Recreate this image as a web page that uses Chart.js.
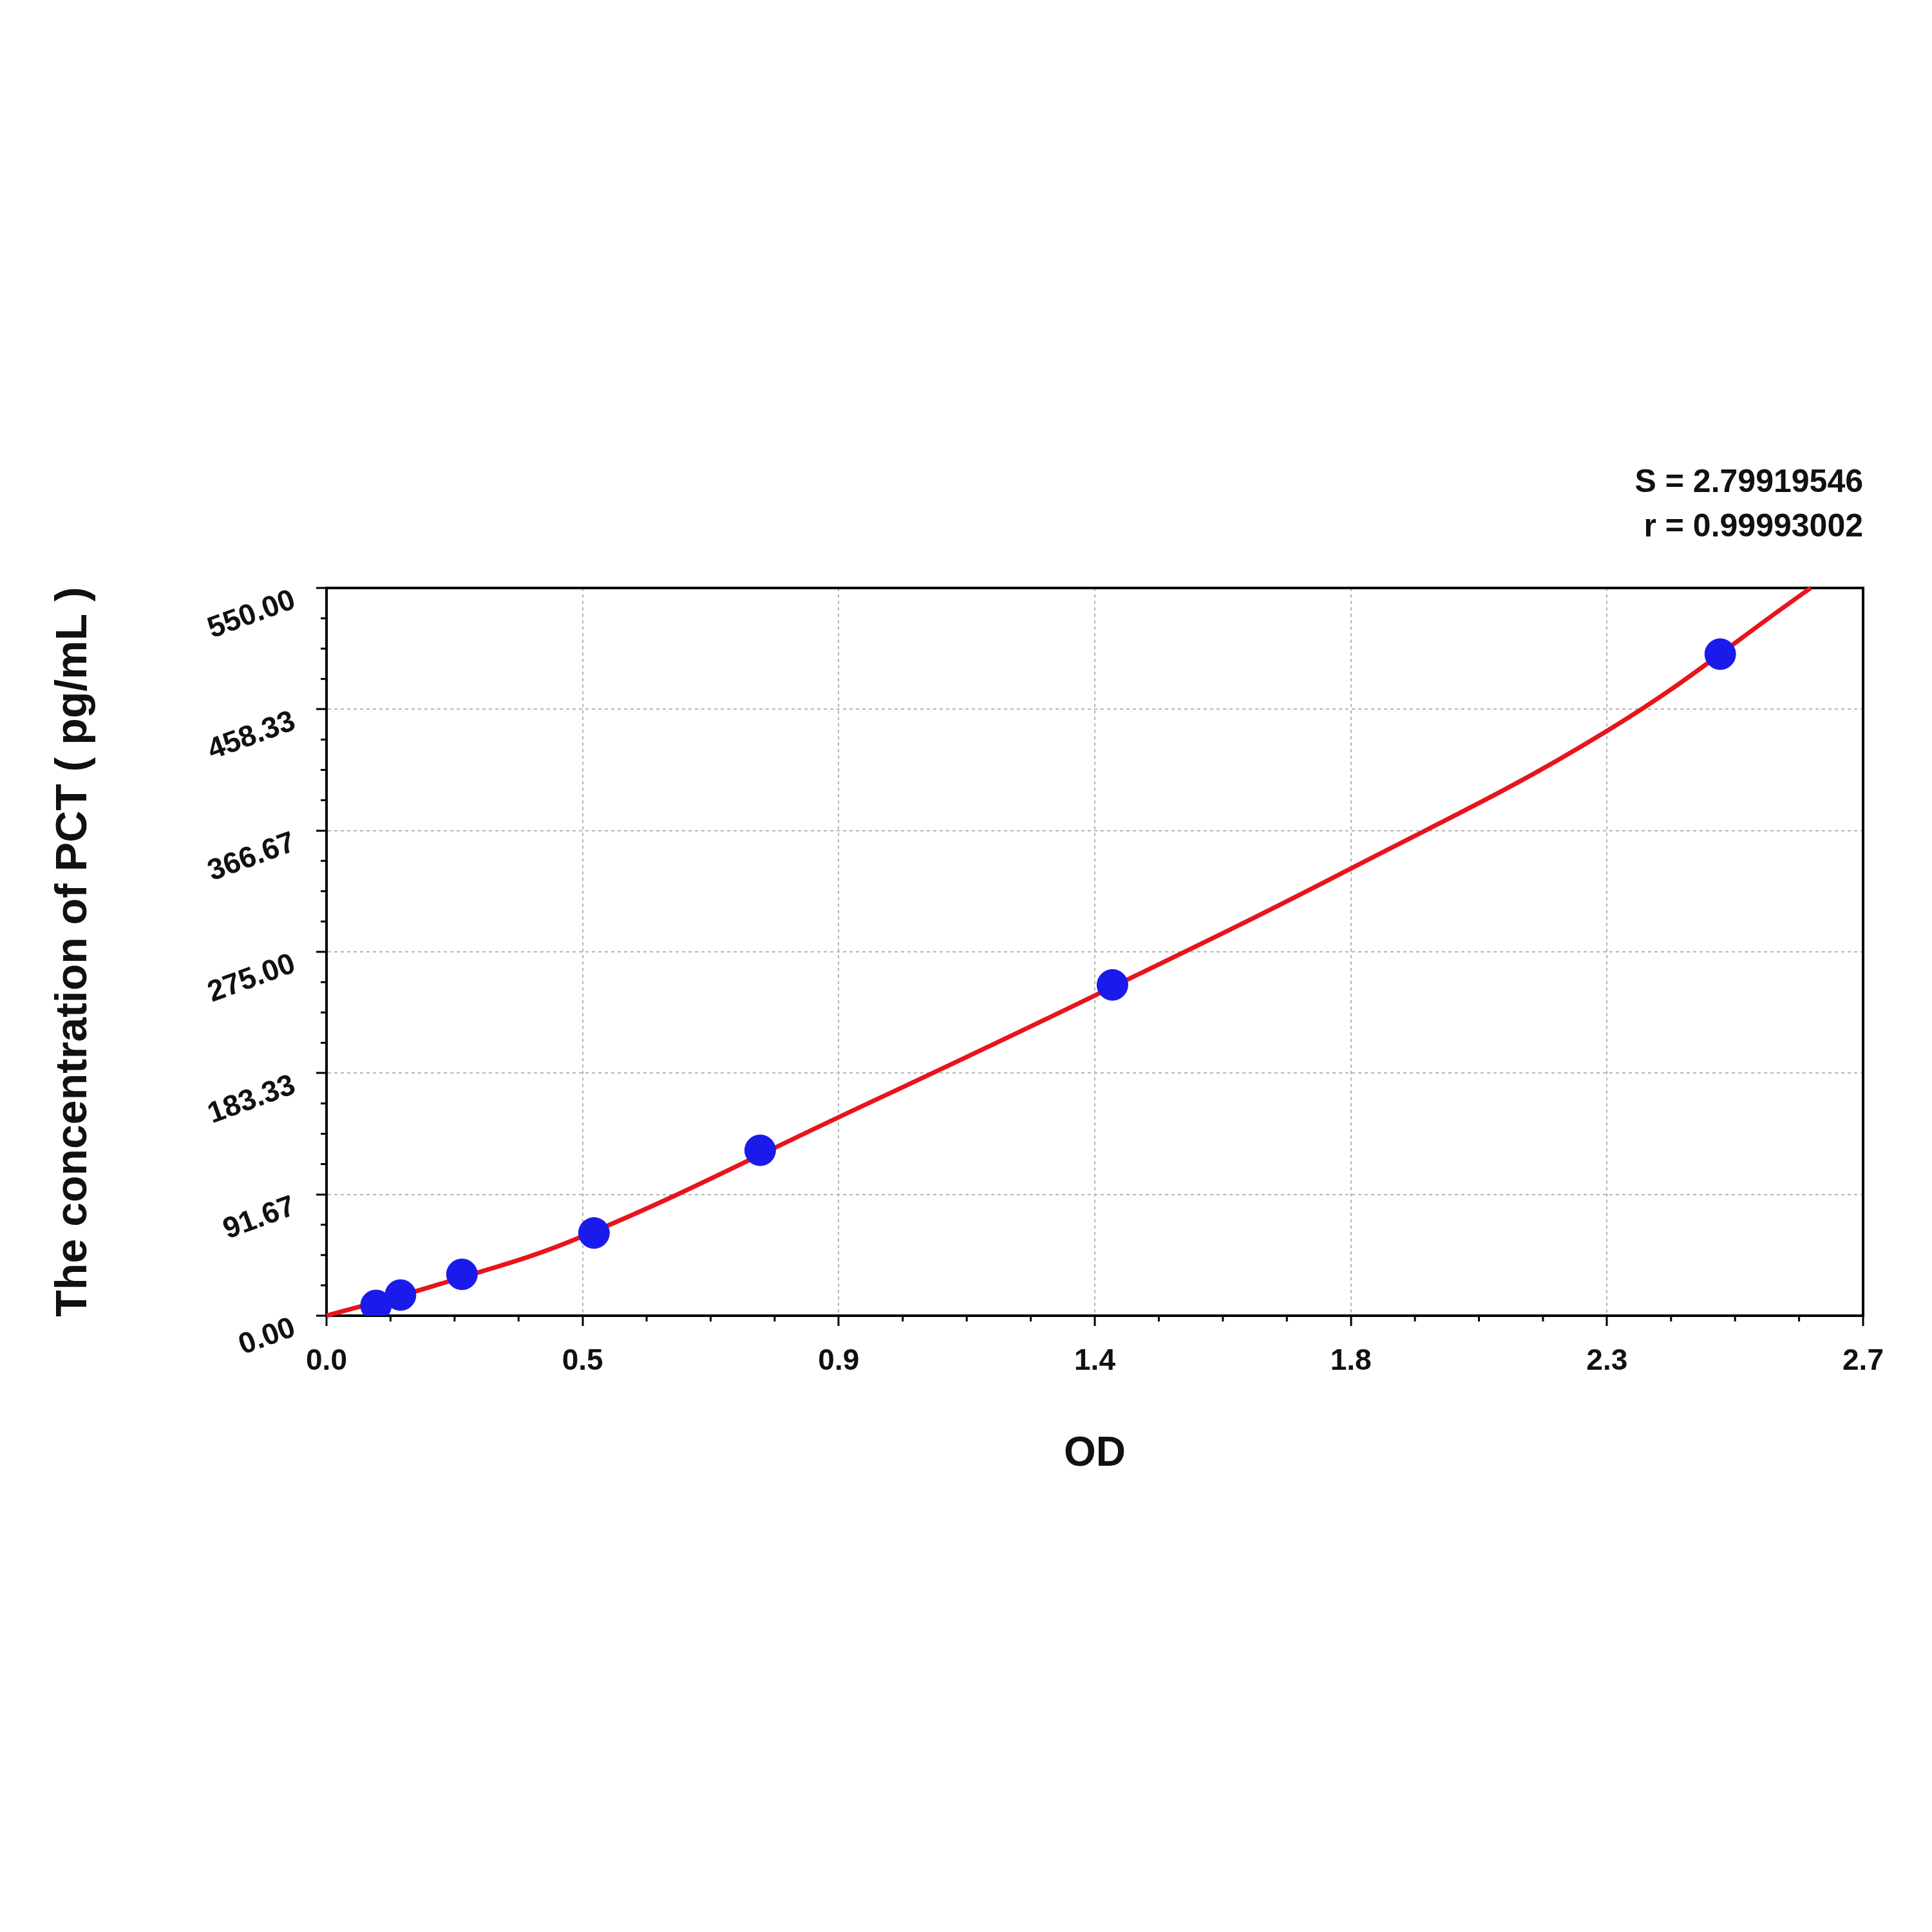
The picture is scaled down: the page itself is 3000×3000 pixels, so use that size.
<!DOCTYPE html>
<html><head><meta charset="utf-8">
<script src="https://cdn.jsdelivr.net/npm/chart.js@4/dist/chart.umd.min.js"></script>
<style>html,body{margin:0;padding:0;background:#fff}#c{width:3000px;height:3000px;display:block}</style>
</head><body><canvas id="c" width="3000" height="3000"></canvas>
<script>
const pointOD = [0.087, 0.130, 0.238, 0.470, 0.762, 1.381, 2.449];
const pointConc = [7.8, 15.6, 31.25, 62.5, 125, 250, 500];
const curveOD = [0, 0.2, 0.45, 0.9, 1.35, 1.8, 2.25, 2.608];
const curveConc = [0, 24, 60, 150, 242, 338, 442, 550];
const yTickLabels = ['0.00','91.67','183.33','275.00','366.67','458.33','550.00'];
const statLines = ['S = 2.79919546', 'r = 0.99993002'];
const xTitle = 'OD';
const yTitle = 'The concentration of PCT ( pg/mL )';
const FONT = '"Liberation Sans", Arial, sans-serif';

const overlay = {
  id: 'overlay',
  afterDraw(chart) {
    const ctx = chart.ctx, x = chart.scales.x, y = chart.scales.y, a = chart.chartArea;
    ctx.save();
    ctx.strokeStyle = '#000'; ctx.lineWidth = 3;
    for (let i = 0; i <= 24; i++) {
      if (i % 4 === 0) continue;
      const px = x.getPixelForValue(i * 2.7 / 24);
      ctx.beginPath(); ctx.moveTo(px, a.bottom); ctx.lineTo(px, a.bottom + 9); ctx.stroke();
      const py = y.getPixelForValue(i * 550 / 24);
      ctx.beginPath(); ctx.moveTo(a.left, py); ctx.lineTo(a.left - 9, py); ctx.stroke();
    }
    ctx.fillStyle = '#111';
    ctx.font = 'bold 46px ' + FONT;
    ctx.textAlign = 'right'; ctx.textBaseline = 'middle';
    yTickLabels.forEach((t, i) => {
      const py = y.getPixelForValue(i * 550 / 6);
      ctx.save(); ctx.translate(a.left - 50, py + 18); ctx.rotate(-20 * Math.PI / 180);
      ctx.fillText(t, 0, 0); ctx.restore();
    });
    ctx.font = 'bold 50px ' + FONT;
    ctx.textAlign = 'right';
    ctx.fillText(statLines[0], 2893, 750);
    ctx.fillText(statLines[1], 2893, 819);
    ctx.font = 'bold 64px ' + FONT; ctx.textAlign = 'center';
    ctx.fillText(xTitle, (a.left + a.right) / 2, 2258);
    ctx.save(); ctx.translate(115, (a.top + a.bottom) / 2); ctx.rotate(-Math.PI / 2);
    ctx.font = 'bold 68px ' + FONT; ctx.fillText(yTitle, 0, 0); ctx.restore();
    ctx.restore();
  }
};

new Chart(document.getElementById('c'), {
  type: 'scatter',
  data: {
    datasets: [
      { type: 'line', data: curveOD.map((v, i) => ({x: v, y: curveConc[i]})),
        borderColor: '#e8141c', borderWidth: 7, pointRadius: 0, tension: 0.4, fill: false, order: 2, clip: false },
      { data: pointOD.map((v, i) => ({x: v, y: pointConc[i]})),
        backgroundColor: '#1a1aeb', borderColor: '#1a1aeb', pointRadius: 24, order: 1 }
    ]
  },
  options: {
    responsive: false, animation: false, devicePixelRatio: 1,
    layout: { padding: { top: 913, right: 107, left: 0, bottom: 0 } },
    plugins: { legend: { display: false }, tooltip: { enabled: false } },
    scales: {
      x: { type: 'linear', min: 0, max: 2.7,
        afterFit: s => { s.height = 957; },
        afterBuildTicks: s => { s.ticks = [0,1,2,3,4,5,6].map(i => ({value: i * 0.45})); },
        ticks: { callback: v => v.toFixed(1), color: '#111', font: { family: FONT, size: 46, weight: 'bold' }, padding: 28, maxRotation: 0 },
        grid: { color: '#b5b5b5', lineWidth: 2, tickColor: '#000', tickLength: 16, tickWidth: 3 },
        border: { color: '#000', width: 4, dash: [5, 5] } },
      y: { type: 'linear', min: 0, max: 550,
        afterFit: s => { s.width = 507; },
        afterBuildTicks: s => { s.ticks = [0,1,2,3,4,5,6].map(i => ({value: i * 550 / 6})); },
        ticks: { display: false },
        grid: { color: '#b5b5b5', lineWidth: 2, tickColor: '#000', tickLength: 16, tickWidth: 3 },
        border: { color: '#000', width: 4, dash: [5, 5] } }
    }
  },
  plugins: [{
    id: 'frame',
    beforeDatasetsDraw(chart) {
      const c = chart.ctx, a = chart.chartArea;
      c.save(); c.strokeStyle = '#000'; c.lineWidth = 4; c.setLineDash([]);
      c.strokeRect(a.left, a.top, a.right - a.left, a.bottom - a.top); c.restore();
    }
  }, overlay]
});
</script></body></html>
